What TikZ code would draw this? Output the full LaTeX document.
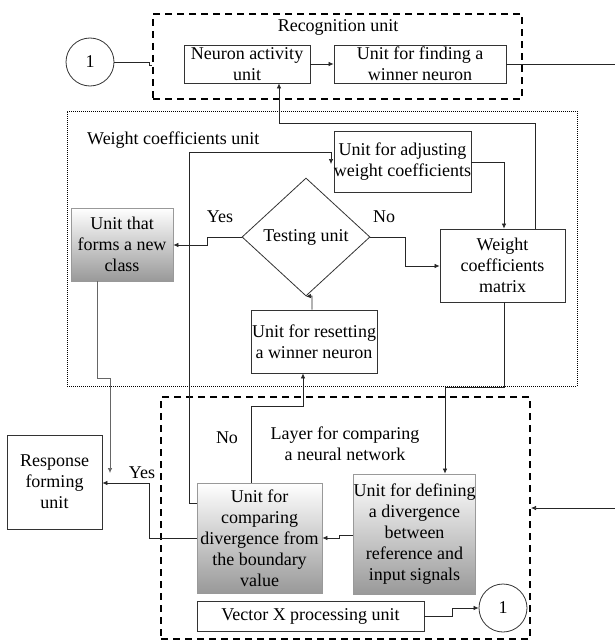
\documentclass[tikz,border=0pt]{standalone}
\usepackage{fontspec}
\setmainfont{Liberation Serif}
\usetikzlibrary{shapes.geometric,arrows.meta}
\begin{document}
\begin{tikzpicture}[x=1pt,y=-1pt,
  font=\fontsize{18}{21}\selectfont,
  box/.style={rectangle, draw=black!80, line width=0.8pt, align=center, inner sep=0pt, fill=white},
  shbox/.style={box, draw=black!40, top color=white, bottom color=black!40},
  conn/.style={line width=0.7pt, draw=black!85},
  arr/.style={conn, -{Latex[length=5pt,width=4.5pt]}},
  dashframe/.style={rectangle, draw, line width=2pt, dash pattern=on 7pt off 5pt, inner sep=0pt},
  dotframe/.style={rectangle, draw, line width=1pt, dash pattern=on 1pt off 1pt, inner sep=0pt},
  lbl/.style={inner sep=0pt}
]
\useasboundingbox (0,0) rectangle (615,642);

% frames
\node[dashframe, minimum width=369pt, minimum height=85pt] (rec) at (337.5,56.5) {};
\node[dotframe, minimum width=510pt, minimum height=275pt] (wcu) at (322,248.5) {};
\node[dashframe, minimum width=369pt, minimum height=242pt] (lay) at (345.5,518) {};

% frame titles
\node[lbl] (recT) at (338,27) {Recognition unit};
\node[lbl, anchor=west] (wcuT) at (87,140) {Weight coefficients unit};
\node[lbl, align=center] (layT) at (345,444) {Layer for comparing\\a neural network};

% circles
\node[circle, draw=black!80, line width=0.8pt, minimum size=48pt, inner sep=0pt] (c1) at (90,62) {1};
\node[circle, draw=black!80, line width=0.8pt, minimum size=48pt, inner sep=0pt] (c2) at (503,608) {1};

% boxes
\node[box, minimum width=126pt, minimum height=38pt] (act) at (247,64) {Neuron activity\\unit};
\node[box, minimum width=172pt, minimum height=38pt] (win) at (420,64) {Unit for finding a\\winner neuron};
\node[box, minimum width=137pt, minimum height=61pt] (adj) at (402.5,161.5) {Unit for adjusting\\weight coefficients};
\node[shbox, minimum width=102pt, minimum height=73pt] (newc) at (122,244.5) {Unit that\\forms a new\\class};
\node[box, minimum width=125pt, minimum height=73pt] (mat) at (502.5,265.5) {Weight\\coefficients\\matrix};
\node[box, minimum width=126pt, minimum height=63pt] (reset) at (314,341.5) {Unit for resetting\\a winner neuron};
\node[box, minimum width=95pt, minimum height=94pt] (resp) at (54.5,482) {Response\\forming\\unit};
\node[shbox, minimum width=125pt, minimum height=110pt] (cmp) at (259.5,538) {Unit for\\comparing\\divergence from\\the boundary\\value};
\node[shbox, minimum width=121pt, minimum height=120pt] (def) at (414.5,534) {Unit for defining\\a divergence\\between\\reference and\\input signals};
\node[box, minimum width=227pt, minimum height=30pt] (vec) at (310.5,616) {Vector X processing unit};
\node[diamond, draw=black!80, line width=0.8pt, minimum width=128pt, minimum height=118pt, inner sep=0pt] (test) at (306,237) {Testing unit};

% labels
\node[lbl] (yes1) at (220,217) {Yes};
\node[lbl] (no1) at (384,217) {No};
\node[lbl] (yes2) at (142,473) {Yes};
\node[lbl] (no2) at (227,438) {No};

% free ends
\coordinate (outR) at (615,64);
\coordinate (inR) at (615,508);

% connectors
\draw[conn] (c1.east) -- (149,62) -- (149,65) -- (rec.west |- 0,65);
\draw[arr] (act.east) -- (win.west);
\draw[conn] (win.east) -- (outR);
\draw[arr] (inR) -- (lay.east |- inR);
\draw[arr] (mat.north -| 535,0) -- (535,123) -- (279,123) -- (act.south -| 279,0);
\draw[arr] (adj.east |- 0,162) -- (504,162) -- (mat.north -| 504,0);
\draw[arr] (test.east) -- (405,237) -- (405,266) -- (mat.west |- 0,266);
\draw[arr] (test.west) -- (207,237) -- (207,245) -- (newc.east |- 0,245);
\draw[arr] (reset.north -| 312,0) -- (312,296) -- (test.south);
\draw[arr] (cmp.north -| 251,0) -- (251,406) -- (303,406) -- (reset.south -| 303,0);
\draw[arr] (cmp.west |- 0,503) -- (189,503) -- (189,152) -- (331,152) -- (331,164);
\draw[arr] (mat.south -| 504,0) -- (504,387) -- (445,387) -- (def.north -| 445,0);
\draw[arr] (def.west |- 0,535) -- (339,535) -- (339,538) -- (cmp.east |- 0,538);
\draw[arr] (cmp.west |- 0,538) -- (149,538) -- (149,483) -- (resp.east |- 0,483);
\draw[arr, draw=black!60] (newc.south -| 97,0) -- (97,378) -- (110,378) -- (110,473);
\draw[arr] (vec.east |- 0,616) -- (452,616) -- (452,608) -- (c2.west);
\end{tikzpicture}
\end{document}
